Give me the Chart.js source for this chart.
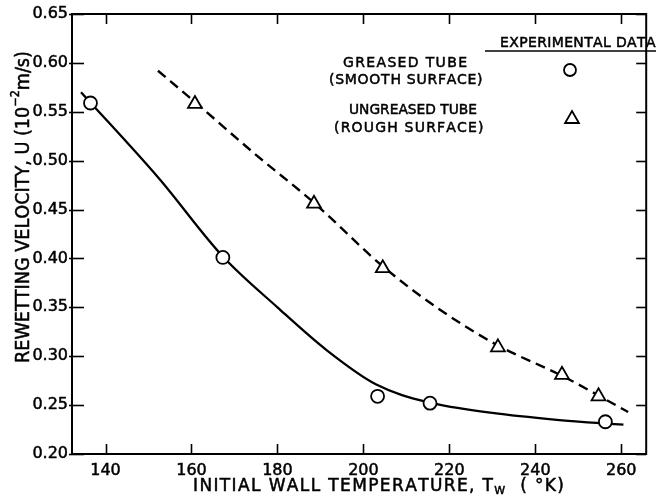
<!DOCTYPE html>
<html><head><meta charset="utf-8">
<script src="https://cdn.jsdelivr.net/npm/chart.js@4"></script>
<style>html,body{margin:0;padding:0;background:#fff}</style>
</head><body>
<canvas id="c" width="656" height="500"></canvas>
<script>
// ---- data ----
const xTicks = [140, 160, 180, 200, 220, 240, 260];
const yTicks = [0.20, 0.25, 0.30, 0.35, 0.40, 0.45, 0.50, 0.55, 0.60, 0.65];

const greasedT = [136.5, 167.3, 203.3, 215.5, 256.3];
const greasedU = [0.559, 0.401, 0.259, 0.252, 0.233];
const ungreasedT = [160.8, 188.5, 204.5, 231.3, 246.2, 254.7];
const ungreasedU = [0.558, 0.456, 0.390, 0.309, 0.281, 0.259];

const smoothCurveT = [134.3, 152.4, 167.3, 180, 191.5, 203, 215, 230, 245, 260.5];
const smoothCurveU = [0.570, 0.482, 0.402, 0.350, 0.306, 0.271, 0.253, 0.242, 0.235, 0.230];
const roughCurveT = [152.2, 160.8, 175, 188.5, 204.5, 218, 231.3, 246.2, 261.6];
const roughCurveU = [0.592, 0.560, 0.506, 0.457, 0.392, 0.347, 0.311, 0.280, 0.243];

const legendLabels = ["GREASED TUBE", "(SMOOTH SURFACE)", "UNGREASED TUBE", "(ROUGH SURFACE)"];
const legendHeader = "EXPERIMENTAL DATA";
const yTitleParts = ["REWETTING VELOCITY, U (10", "\u22122", "m/s)"];
const xTitleParts = ["INITIAL WALL TEMPERATURE, T", "W", "  ( \u00B0K)"];

const pts = (xs, ys) => xs.map((x, i) => ({x, y: ys[i]}));
const FONT = '"DejaVu Sans", sans-serif';

function drawRich(ctx, segs, x, y, target) {
  let natural = 0, n = 0;
  segs.forEach(s => { ctx.font = s.size + 'px ' + FONT; natural += ctx.measureText(s.t).width; n += s.t.length; });
  let ls = (target - natural) / Math.max(1, n - 1), sx = 1;
  if (ls < 0) { ls = 0; sx = target / natural; }
  ctx.save();
  ctx.translate(x, y); ctx.scale(sx, 1);
  ctx.lineWidth = 0.5; ctx.strokeStyle = '#000';
  let cx = 0;
  segs.forEach(s => {
    ctx.font = s.size + 'px ' + FONT;
    for (const ch of s.t) {
      ctx.fillText(ch, cx, (s.dy || 0));
      ctx.strokeText(ch, cx, (s.dy || 0));
      cx += ctx.measureText(ch).width + ls / sx;
    }
  });
  ctx.restore();
}

const decor = {
  id: 'decor',
  afterDraw(chart) {
    const ctx = chart.ctx, a = chart.chartArea;
    const xs = chart.scales.x, ys = chart.scales.y;
    ctx.save();
    ctx.strokeStyle = '#000'; ctx.fillStyle = '#000';
    ctx.lineWidth = 2;
    ctx.strokeRect(a.left, a.top, a.right - a.left, a.bottom - a.top);
    ctx.lineWidth = 1.6;
    xTicks.forEach(v => {
      const p = Math.round(xs.getPixelForValue(v)) + 0.5;
      ctx.beginPath(); ctx.moveTo(p, a.bottom); ctx.lineTo(p, a.bottom - 10); ctx.stroke();
      ctx.beginPath(); ctx.moveTo(p, a.top); ctx.lineTo(p, a.top + 10); ctx.stroke();
    });
    yTicks.forEach(v => {
      const p = Math.round(ys.getPixelForValue(v)) + 0.5;
      ctx.beginPath(); ctx.moveTo(a.left - 3, p); ctx.lineTo(a.left + 12, p); ctx.stroke();
      ctx.beginPath(); ctx.moveTo(a.right, p); ctx.lineTo(a.right - 10, p); ctx.stroke();
    });

    // axis titles
    ctx.textBaseline = 'middle'; ctx.textAlign = 'left';
    ctx.save();
    ctx.translate(24, 207); ctx.rotate(-Math.PI / 2);
    drawRich(ctx, [{t: yTitleParts[0], size: 19}, {t: yTitleParts[1], size: 12, dy: -8}, {t: yTitleParts[2], size: 19}], -156, 0, 311);
    ctx.restore();
    drawRich(ctx, [{t: xTitleParts[0], size: 17}, {t: xTitleParts[1], size: 11, dy: 4}, {t: xTitleParts[2], size: 17}], 193, 487, 368);

    // legend
    const cen = (t, cx, cy, w, size) => drawRich(ctx, [{t, size}], cx - w / 2, cy, w);
    cen(legendHeader, 576, 43, 152, 14);
    ctx.lineWidth = 1.5;
    ctx.beginPath(); ctx.moveTo(485, 51); ctx.lineTo(656, 51); ctx.stroke();
    cen(legendLabels[0], 405, 63, 124, 14);
    cen(legendLabels[1], 405, 80, 152, 14);
    cen(legendLabels[2], 413, 110, 128, 14);
    cen(legendLabels[3], 408, 128, 148, 14);
    ctx.lineWidth = 1.8;
    ctx.beginPath(); ctx.arc(570, 70, 6, 0, Math.PI * 2); ctx.stroke();
    ctx.beginPath();
    const r = 8, tx = 572, ty = 119;
    ctx.moveTo(tx, ty - r);
    ctx.lineTo(tx + Math.sin(2 * Math.PI / 3) * r, ty - Math.cos(2 * Math.PI / 3) * r);
    ctx.lineTo(tx + Math.sin(4 * Math.PI / 3) * r, ty - Math.cos(4 * Math.PI / 3) * r);
    ctx.closePath(); ctx.stroke();
    ctx.restore();
  }
};

new Chart(document.getElementById('c'), {
  type: 'scatter',
  data: {
    datasets: [
      {label: 'smooth fit', data: pts(smoothCurveT, smoothCurveU), showLine: true, borderColor: '#000', borderWidth: 2.3,
       pointRadius: 0, cubicInterpolationMode: 'monotone', order: 2},
      {label: 'rough fit', data: pts(roughCurveT, roughCurveU), showLine: true, borderColor: '#000', borderWidth: 2.4,
       borderDash: [10, 6], pointRadius: 0, cubicInterpolationMode: 'monotone', order: 2},
      {label: 'GREASED TUBE', data: pts(greasedT, greasedU), pointStyle: 'circle', pointRadius: 6.5,
       borderColor: '#000', backgroundColor: '#fff', borderWidth: 1.8, order: 1},
      {label: 'UNGREASED TUBE', data: pts(ungreasedT, ungreasedU), pointStyle: 'triangle', pointRadius: 8,
       borderColor: '#000', backgroundColor: '#fff', borderWidth: 1.8, order: 1}
    ]
  },
  options: {
    responsive: false, animation: false, devicePixelRatio: 1,
    layout: {padding: {top: 14, right: 3, left: 0, bottom: 0}},
    plugins: {legend: {display: false}, tooltip: {enabled: false}},
    scales: {
      x: {type: 'linear', min: 132.2, max: 265.8,
          afterBuildTicks: s => { s.ticks = xTicks.map(v => ({value: v})); },
          afterFit: s => { s.height = 46; },
          grid: {display: false, drawTicks: false}, border: {display: false},
          ticks: {color: '#000', textStrokeColor: '#000', textStrokeWidth: 0.5, padding: 7, maxRotation: 0,
                  font: {family: FONT, size: 16}, callback: v => String(v)}},
      y: {type: 'linear', min: 0.2, max: 0.65,
          afterBuildTicks: s => { s.ticks = yTicks.map(v => ({value: v})); },
          afterFit: s => { s.width = 72; },
          grid: {display: false, drawTicks: false}, border: {display: false},
          ticks: {color: '#000', textStrokeColor: '#000', textStrokeWidth: 0.5, padding: 4,
                  font: {family: FONT, size: 16}, callback: v => Number(v).toFixed(2)}}
    }
  },
  plugins: [decor]
});
</script>
</body></html>
